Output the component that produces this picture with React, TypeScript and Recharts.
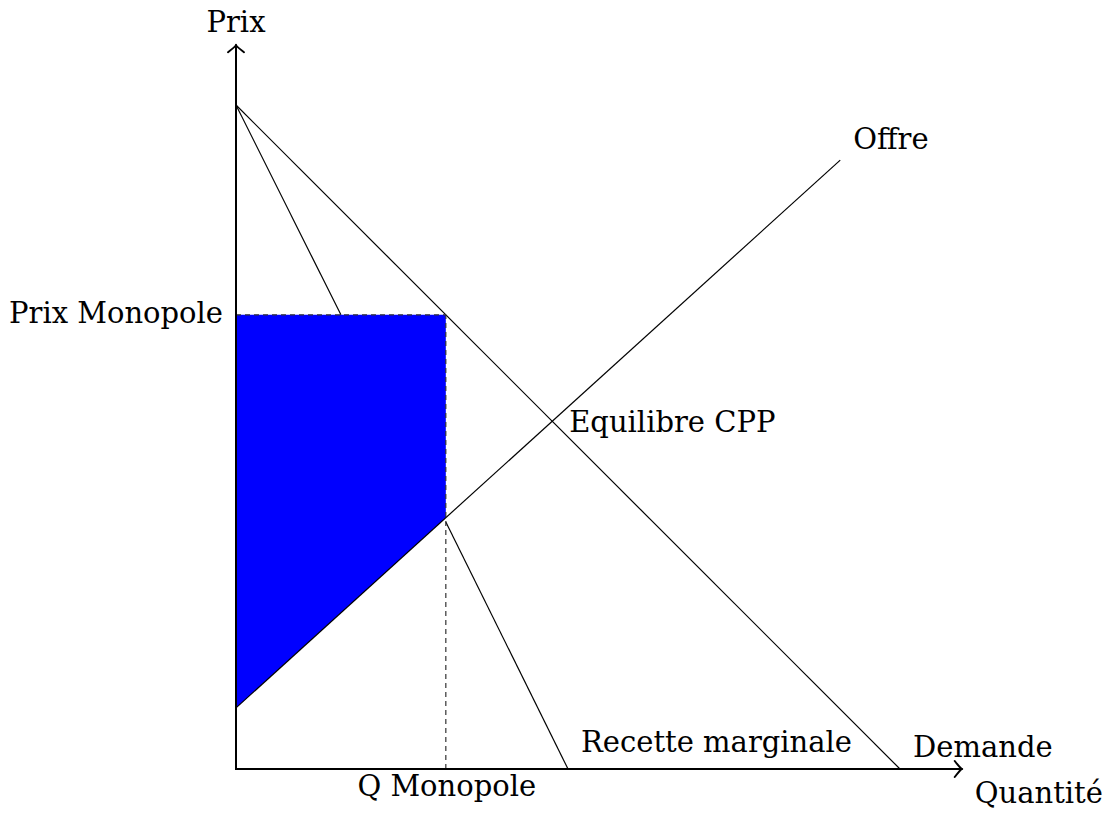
import React from 'react';
import { ComposedChart, Line, Area, Scatter, XAxis, YAxis, ReferenceLine } from 'recharts';

// Demand: P = 10 - Q
const DEMAND_Q = [0, 10];
const DEMAND_P = [10, 0];
// Supply (Offre)
const SUPPLY_Q = [0, 9.1];
const SUPPLY_P = [0.92, 9.17];
// Marginal revenue (visible parts: above the shaded area and below it)
const MR_UPPER_Q = [0, 1.58];
const MR_UPPER_P = [10, 6.84];
const MR_LOWER_Q = [3.16, 5];
const MR_LOWER_P = [3.72, 0];
// Monopoly point
const Q_MONO = 3.16;
const P_MONO = 6.84;
const P_SUPPLY_AT_QMONO = 3.785;
// Competitive equilibrium
const Q_EQ = 4.762;
const P_EQ = 5.238;
// Axis extents
const X_AXIS_END = 10.93;
const Y_AXIS_END = 10.9;

const LABEL_TEXTS = ['Prix', 'Prix Monopole', 'Q Monopole', 'Quantité', 'Demande', 'Recette marginale', 'Equilibre CPP', 'Offre'];
const LABEL_Q = [0, 0, Q_MONO, X_AXIS_END, 10, 5, Q_EQ, 9.1];
const LABEL_P = [Y_AXIS_END, P_MONO, 0, 0, 0, 0, P_EQ, 9.17];

const LABEL_STYLE: Record<string, { dx: number; dy: number; anchor: 'start' | 'middle' | 'end' }> = {
  'Prix': { dx: 0, dy: -13, anchor: 'middle' },
  'Prix Monopole': { dx: -13, dy: 8, anchor: 'end' },
  'Q Monopole': { dx: 1, dy: 27, anchor: 'middle' },
  'Quantité': { dx: 13, dy: 34, anchor: 'start' },
  'Demande': { dx: 13, dy: -12, anchor: 'start' },
  'Recette marginale': { dx: 13, dy: -17, anchor: 'start' },
  'Equilibre CPP': { dx: 17, dy: 11, anchor: 'start' },
  'Offre': { dx: 13, dy: -11, anchor: 'start' },
};

const toPoints = (qs: number[], ps: number[]) => qs.map((q, i) => ({ q, p: ps[i] }));

const demandData = toPoints(DEMAND_Q, DEMAND_P);
const supplyData = toPoints(SUPPLY_Q, SUPPLY_P);
const mrUpperData = toPoints(MR_UPPER_Q, MR_UPPER_P);
const mrLowerData = toPoints(MR_LOWER_Q, MR_LOWER_P);
const surplusData = [
  { q: 0, range: [SUPPLY_P[0], P_MONO] },
  { q: Q_MONO, range: [P_SUPPLY_AT_QMONO, P_MONO] },
];
const monoVerticalData = toPoints([Q_MONO, Q_MONO], [0, P_MONO]);
const monoHorizontalData = toPoints([0, Q_MONO], [P_MONO, P_MONO]);
const labelData = LABEL_TEXTS.map((text, i) => ({ q: LABEL_Q[i], p: LABEL_P[i], text }));

const FONT = '"DejaVu Serif", serif';

const LabelShape = (props: any) => {
  const { cx, cy, payload } = props;
  const st = LABEL_STYLE[payload.text];
  return (
    <text x={cx + st.dx} y={cy + st.dy} textAnchor={st.anchor} fontFamily={FONT} fontSize={29} fill="#000">
      {payload.text}
    </text>
  );
};

const ArrowLine = (props: any) => {
  const { x1, y1, x2, y2 } = props;
  const ang = Math.atan2(y2 - y1, x2 - x1);
  const back = 7;
  const half = 8;
  const bx = x2 - back * Math.cos(ang);
  const by = y2 - back * Math.sin(ang);
  const px = -Math.sin(ang);
  const py = Math.cos(ang);
  const a1x = bx + half * px;
  const a1y = by + half * py;
  const a2x = bx - half * px;
  const a2y = by - half * py;
  const cx1 = x2 - 2 * Math.cos(ang) + 1.5 * px;
  const cy1 = y2 - 2 * Math.sin(ang) + 1.5 * py;
  const cx2 = x2 - 2 * Math.cos(ang) - 1.5 * px;
  const cy2 = y2 - 2 * Math.sin(ang) - 1.5 * py;
  return (
    <g>
      <line x1={x1} y1={y1} x2={x2} y2={y2} stroke="#000" strokeWidth={2} strokeLinecap="square" />
      <path
        d={`M${a1x},${a1y} Q${cx1},${cy1} ${x2},${y2} Q${cx2},${cy2} ${a2x},${a2y}`}
        fill="none"
        stroke="#000"
        strokeWidth={2}
        strokeLinecap="round"
      />
    </g>
  );
};

export default function App() {
  return (
    <div style={{ margin: -8, width: 1119, height: 816 }}>
      <ComposedChart
        width={1119}
        height={816}
        margin={{ top: 38.6, left: 236, right: 152.6, bottom: 47 }}
        style={{ background: '#fff' }}
      >
        <XAxis type="number" dataKey="q" domain={[0, 11]} hide />
        <YAxis type="number" dataKey="p" domain={[0, 11]} hide />
        <Area data={surplusData} dataKey="range" type="linear" fill="#0000ff" fillOpacity={1} stroke="none" isAnimationActive={false} />
        <Line data={mrUpperData} dataKey="p" type="linear" stroke="#000" strokeWidth={1.2} dot={false} activeDot={false} isAnimationActive={false} />
        <Line data={mrLowerData} dataKey="p" type="linear" stroke="#000" strokeWidth={1.2} dot={false} activeDot={false} isAnimationActive={false} />
        <Line data={demandData} dataKey="p" type="linear" stroke="#000" strokeWidth={1.2} dot={false} activeDot={false} isAnimationActive={false} />
        <Line data={monoVerticalData} dataKey="p" type="linear" stroke="#333" strokeWidth={1.2} strokeDasharray="5 4" dot={false} activeDot={false} isAnimationActive={false} />
        <Line data={monoHorizontalData} dataKey="p" type="linear" stroke="#333" strokeWidth={1.2} strokeDasharray="5 4" dot={false} activeDot={false} isAnimationActive={false} />
        <Line data={supplyData} dataKey="p" type="linear" stroke="#000" strokeWidth={1.2} dot={false} activeDot={false} isAnimationActive={false} />
        <ReferenceLine segment={[{ x: 0, y: 0 }, { x: X_AXIS_END, y: 0 }]} shape={ArrowLine} />
        <ReferenceLine segment={[{ x: 0, y: 0 }, { x: 0, y: Y_AXIS_END }]} shape={ArrowLine} />
        <Scatter data={labelData} dataKey="p" shape={LabelShape} isAnimationActive={false} />
      </ComposedChart>
    </div>
  );
}
